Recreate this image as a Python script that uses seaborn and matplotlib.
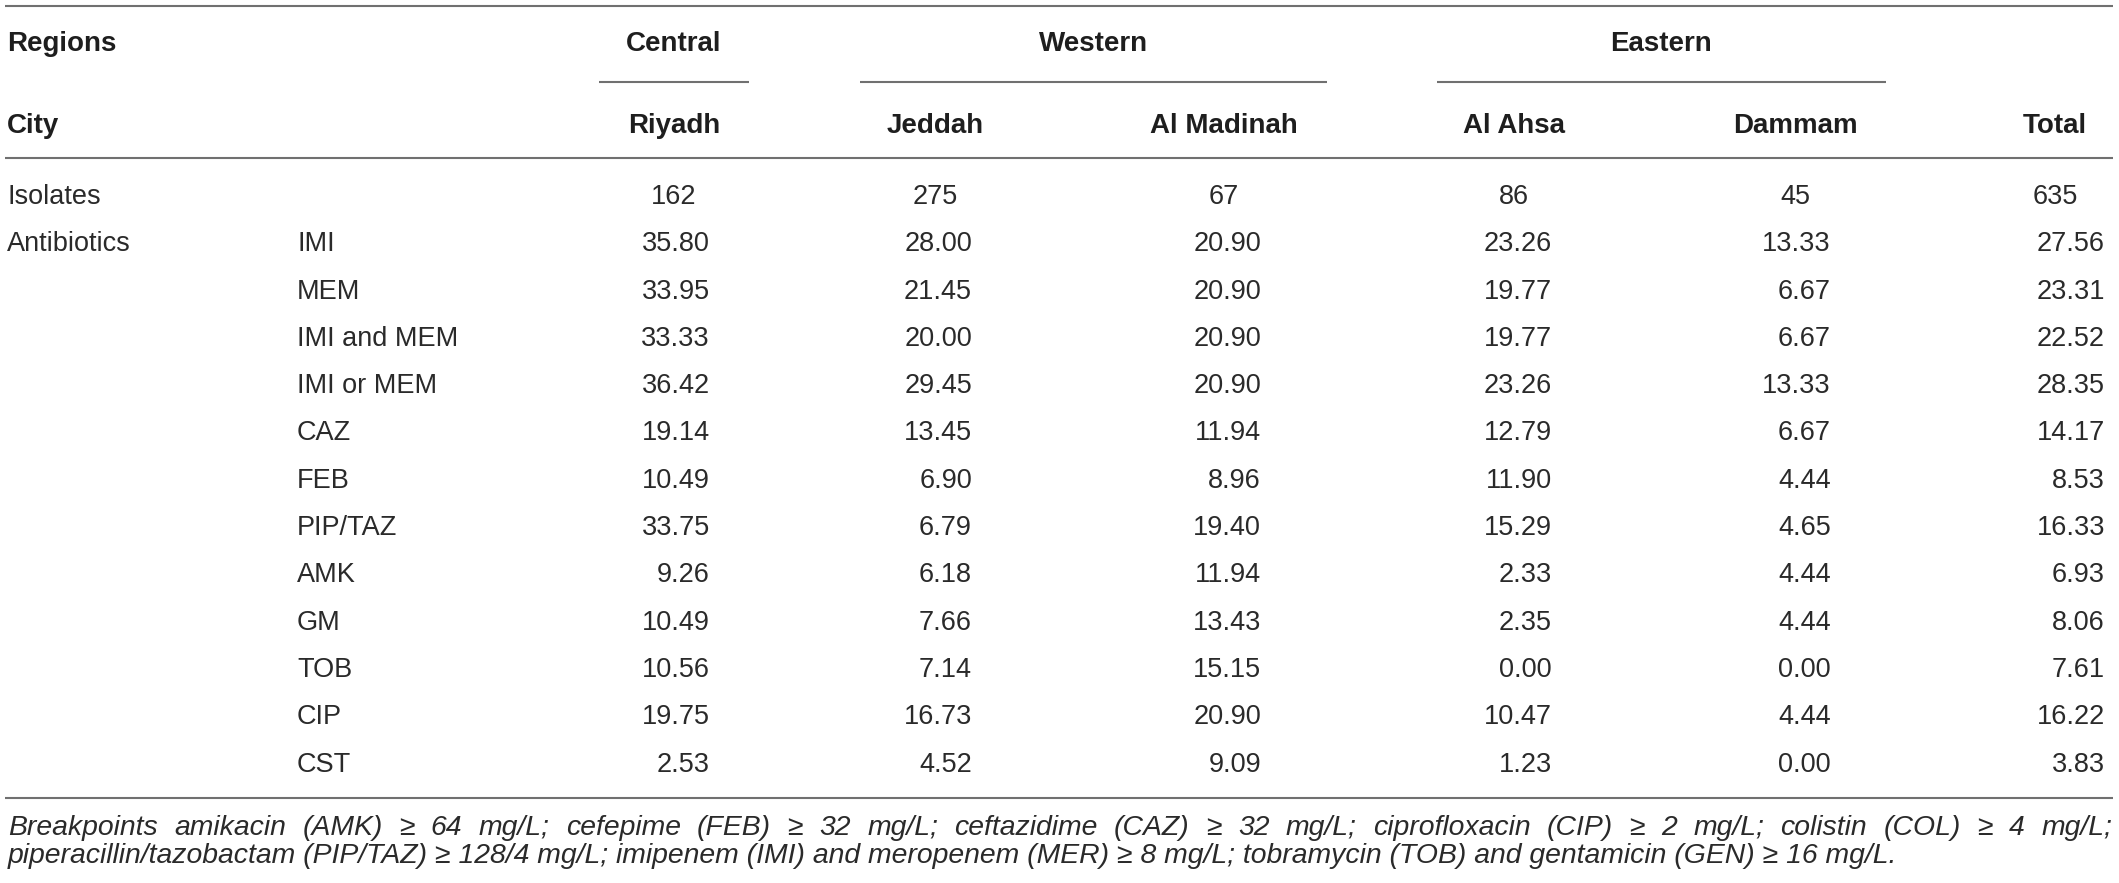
import numpy as np
import pandas as pd
import matplotlib.pyplot as plt
import seaborn as sns

# table content
regions = ["Central", "Western", "Eastern"]
cities = ["Riyadh", "Jeddah", "Al Madinah", "Al Ahsa", "Dammam", "Total"]
city_region = ["Central", "Western", "Western", "Eastern", "Eastern", ""]
isolates = [162, 275, 67, 86, 45, 635]
antibiotics = ["IMI", "MEM", "IMI and MEM", "IMI or MEM", "CAZ", "FEB",
               "PIP/TAZ", "AMK", "GM", "TOB", "CIP", "CST"]
riyadh = [35.80, 33.95, 33.33, 36.42, 19.14, 10.49, 33.75, 9.26, 10.49, 10.56, 19.75, 2.53]
jeddah = [28.00, 21.45, 20.00, 29.45, 13.45, 6.90, 6.79, 6.18, 7.66, 7.14, 16.73, 4.52]
madinah = [20.90, 20.90, 20.90, 20.90, 11.94, 8.96, 19.40, 11.94, 13.43, 15.15, 20.90, 9.09]
ahsa = [23.26, 19.77, 19.77, 23.26, 12.79, 11.90, 15.29, 2.33, 2.35, 0.00, 10.47, 1.23]
dammam = [13.33, 6.67, 6.67, 13.33, 6.67, 4.44, 4.65, 4.44, 4.44, 0.00, 4.44, 0.00]
total = [27.56, 23.31, 22.52, 28.35, 14.17, 8.53, 16.33, 6.93, 8.06, 7.61, 16.22, 3.83]

note_1 = ("Breakpoints amikacin (AMK) \u2265 64 mg/L; cefepime (FEB) \u2265 32 mg/L; "
          "ceftazidime (CAZ) \u2265 32 mg/L; ciprofloxacin (CIP) \u2265 2 mg/L; "
          "colistin (COL) \u2265 4 mg/L;")
note_2 = ("piperacillin/tazobactam (PIP/TAZ) \u2265 128/4 mg/L; imipenem (IMI) and "
          "meropenem (MER) \u2265 8 mg/L; tobramycin (TOB) and gentamicin (GEN) \u2265 16 mg/L.")

df = pd.DataFrame(dict(zip(cities, [riyadh, jeddah, madinah, ahsa, dammam, total])),
                  index=antibiotics)

sns.set_theme(style="white")
plt.rcParams['font.family'] = ['Liberation Sans', 'DejaVu Sans']

# layout (pixel units, figure is 2119 x 883 at 100 dpi)
W, H = 2119, 883
col_center = [674, 935, 1224, 1514, 1795, 2055]
col_right = [710, 972, 1261, 1552, 1831, 2105]
group_span = {"Central": (599, 749), "Western": (860, 1327), "Eastern": (1437, 1886)}
x_left, x_lab = 7, 297
y_top, y_group, y_city, y_head_line = 6, 51, 133, 158
y_first, pitch = 204, 47.3
y_bottom, y_note1, y_note2 = 798, 835, 863
line_col = "#707070"
txt_col = "#2a2a2a"
head_col = "#1e1e1e"
fs_body, fs_head, fs_note = 19.5, 20, 16.5

fig = plt.figure(figsize=(W / 100, H / 100), dpi=100)
ax = fig.add_axes([0, 0, 1, 1])
ax.set_xlim(0, W)
ax.set_ylim(H, 0)
ax.axis("off")

# rules
for y in (y_top, y_head_line, y_bottom):
    ax.plot([5, 2113], [y, y], color=line_col, lw=1.5, solid_capstyle="butt")
for reg in regions:
    x0, x1 = group_span[reg]
    ax.plot([x0, x1], [82, 82], color=line_col, lw=1.5, solid_capstyle="butt")
    ax.text((x0 + x1) / 2, y_group, reg, ha="center", va="baseline",
            fontsize=fs_head, fontweight="bold", color=head_col)

ax.text(x_left, y_group, "Regions", ha="left", va="baseline",
        fontsize=fs_head, fontweight="bold", color=head_col)
ax.text(x_left, y_city, "City", ha="left", va="baseline",
        fontsize=fs_head, fontweight="bold", color=head_col)
for c, xc in zip(cities, col_center):
    ax.text(xc, y_city, c, ha="center", va="baseline",
            fontsize=fs_head, fontweight="bold", color=head_col)

# isolates row
ax.text(x_left, y_first, "Isolates", ha="left", va="baseline",
        fontsize=fs_body, color=txt_col)
for n, xc in zip(isolates, col_center):
    ax.text(xc, y_first, str(n), ha="center", va="baseline",
            fontsize=fs_body, color=txt_col)

# antibiotic rows
ax.text(x_left, y_first + pitch, "Antibiotics", ha="left", va="baseline",
        fontsize=fs_body, color=txt_col)
for i, ab in enumerate(df.index):
    y = y_first + pitch * (i + 1)
    ax.text(x_lab, y, ab, ha="left", va="baseline", fontsize=fs_body, color=txt_col)
    for c, xr in zip(df.columns, col_right):
        ax.text(xr, y, f"{df.loc[ab, c]:.2f}", ha="right", va="baseline",
                fontsize=fs_body, color=txt_col)

# footnote: size so that line 2 ends where it does in the original,
# then line 1 justified to the table width
fig.canvas.draw()
rend = fig.canvas.get_renderer()
t2 = ax.text(8, y_note2, note_2, ha="left", va="baseline", fontsize=fs_note,
             style="italic", color=txt_col)
w2 = t2.get_window_extent(rend).width
fs_note = fs_note * (1900 - 8) / w2
t2.set_fontsize(fs_note)

words = note_1.split(" ")
arts = [ax.text(0, y_note1, w, ha="left", va="baseline", fontsize=fs_note,
                style="italic", color=txt_col) for w in words]
widths = [a.get_window_extent(rend).width for a in arts]
gap = (2112 - 8 - sum(widths)) / (len(words) - 1)
x = 8
for a, w in zip(arts, widths):
    a.set_x(x)
    x += w + gap

fig.savefig("out.png", dpi=100)
